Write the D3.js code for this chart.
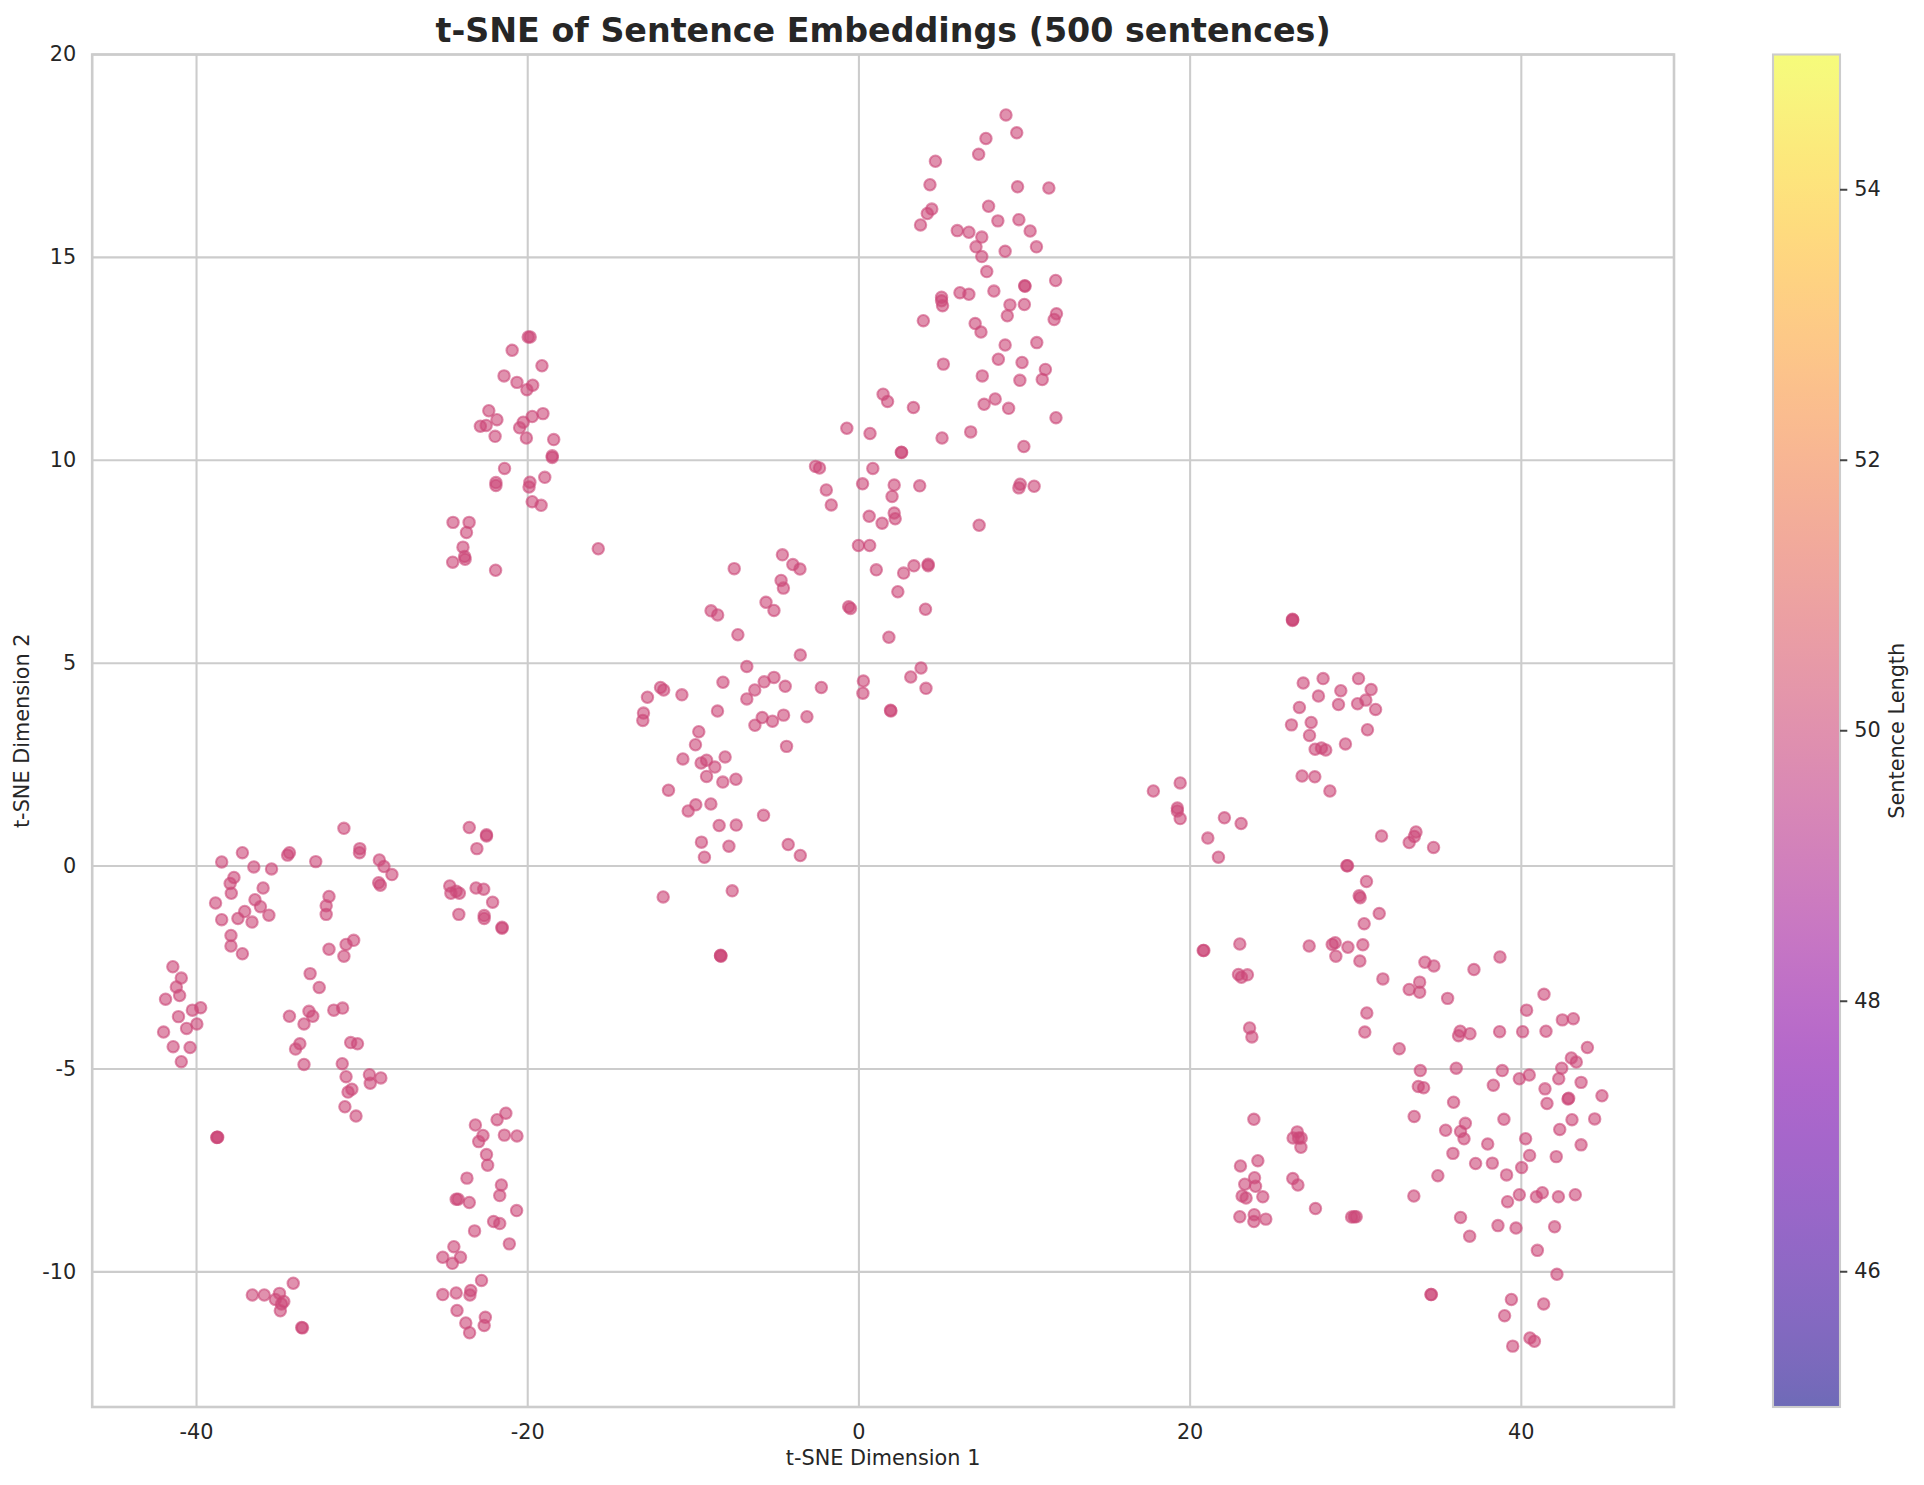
<!DOCTYPE html>
<html><head><meta charset="utf-8">
<style>html,body{margin:0;padding:0;background:#fff}svg{display:block}text{font-family:"DejaVu Sans",sans-serif;fill:#262626}</style>
<script src="https://cdn.jsdelivr.net/npm/d3@7/dist/d3.min.js"></script>
</head><body><svg id="c" width="1924" height="1485"></svg>
<script>
const chartTitle="t-SNE of Sentence Embeddings (500 sentences)";
const xLabel="t-SNE Dimension 1", yLabel="t-SNE Dimension 2", cbLabel="Sentence Length";
const xTicks=[-40,-20,0,20,40], yTicks=[-10,-5,0,5,10,15,20], cbTicks=[46,48,50,52,54];
const sentenceLength=50;
const clusterWestUpper=[[-31.1,.93],[-30.14,.43],[-30.16,.33],[-28.96,.15],[-28.68,-.01],[-28.2,-.21],[-29,-.41],[-28.9,-.47],[-32.8,.11],[-34.39,.33],[-34.5,.27],[-35.47,-.07],[-36.54,-.02],[-37.23,.33],[-38.48,.1],[-37.74,-.28],[-37.97,-.43],[-37.9,-.67],[-35.98,-.54],[-36.47,-.83],[-36.14,-1],[-37.09,-1.12],[-37.5,-1.29],[-38.85,-.91],[-38.48,-1.32],[-36.65,-1.38],[-35.63,-1.21],[-32,-.75],[-32.17,-.98],[-32.17,-1.19],[-37.92,-1.71],[-37.92,-1.97],[-37.23,-2.16],[-30.51,-1.83],[-30.97,-1.93],[-32,-2.05],[-31.1,-2.22],[-33.14,-2.65],[-32.59,-2.99]];
const clusterWestLower=[[-41.43,-2.48],[-40.92,-2.76],[-41.22,-2.98],[-41.02,-3.19],[-41.87,-3.28],[-39.75,-3.49],[-40.25,-3.55],[-41.09,-3.71],[-39.98,-3.89],[-40.6,-4],[-41.99,-4.09],[-41.41,-4.45],[-40.39,-4.47],[-40.92,-4.82],[-34.39,-3.7],[-33.21,-3.58],[-32.98,-3.7],[-33.51,-3.89],[-31.71,-3.55],[-31.18,-3.5],[-30.69,-4.35],[-30.28,-4.38],[-33.76,-4.38],[-34.02,-4.51],[-33.51,-4.89],[-31.2,-4.87],[-30.97,-5.19],[-29.56,-5.14],[-28.87,-5.22],[-29.51,-5.35],[-30.62,-5.5],[-30.85,-5.57],[-31.04,-5.93],[-30.37,-6.16],[-38.75,-6.68],[-38.72,-6.68],[-38.78,-6.69],
[-36.63,-10.57],[-35.91,-10.57],[-34.16,-10.28],[-34.99,-10.53],[-35.24,-10.68],[-34.73,-10.73],[-34.87,-10.79],[-34.94,-10.96],[-33.65,-11.37],[-33.6,-11.38]];
const clusterSouthWest=[[-23.53,.95],[-22.49,.77],[-22.49,.74],[-23.07,.43],[-24.71,-.49],[-24.64,-.67],[-24.32,-.62],[-24.13,-.67],[-23.12,-.54],[-22.66,-.57],[-22.12,-.89],[-24.16,-1.19],[-22.63,-1.22],[-22.63,-1.29],[-21.55,-1.51],[-21.55,-1.53],
[-23.16,-6.38],[-21.32,-6.09],[-21.85,-6.25],[-22.7,-6.64],[-22.96,-6.79],[-21.41,-6.63],[-20.65,-6.65],[-22.49,-7.11],[-22.42,-7.37],[-23.67,-7.69],[-21.59,-7.86],[-21.69,-8.12],[-24.32,-8.21],[-24.2,-8.21],[-23.53,-8.29],[-20.67,-8.49],[-22.06,-8.76],[-21.69,-8.81],[-23.21,-8.99],[-21.11,-9.31],[-24.46,-9.38],[-25.13,-9.64],[-24.06,-9.64],[-24.55,-9.79],[-22.79,-10.21],[-23.44,-10.46],[-23.49,-10.57],[-24.32,-10.52],[-25.13,-10.56],[-24.27,-10.95],[-22.56,-11.12],[-22.63,-11.32],[-23.74,-11.26],[-23.51,-11.5]];
const clusterNorthWest=[[-19.97,13.04],[-19.85,13.04],[-20.94,12.71],[-19.14,12.33],[-21.43,12.08],[-20.65,11.92],[-19.7,11.85],[-20.05,11.74],[-22.35,11.22],[-21.86,11],[-19.08,11.15],[-19.73,11.08],[-20.27,10.94],[-20.49,10.8],[-22.86,10.84],[-22.51,10.86],[-21.97,10.59],[-20.08,10.55],[-18.43,10.51],[-18.52,10.11],[-18.52,10.07],[-21.4,9.8],[-18.97,9.58],[-21.92,9.45],[-21.92,9.38],[-19.87,9.46],[-19.92,9.34],[-19.73,8.98],[-19.19,8.89],[-24.51,8.47],[-23.54,8.47],[-23.7,8.22],[-23.91,7.86],[-23.81,7.63],[-23.78,7.56],[-24.53,7.49],[-21.94,7.29],[-15.74,7.82]];
const clusterNorth=[[8.88,18.51],[9.53,18.07],[7.67,17.93],[7.23,17.54],[4.62,17.37],[4.29,16.79],[9.58,16.74],[11.47,16.71],[4.4,16.19],[4.13,16.08],[3.72,15.8],[7.83,16.26],[8.39,15.9],[9.66,15.93],[10.34,15.65],[5.94,15.66],[6.64,15.62],[7.42,15.5],[7.07,15.26],[7.42,15.02],[8.83,15.15],[10.72,15.26],[7.72,14.65],[10.01,14.3],[10.03,14.29],[11.88,14.43],[8.15,14.17],[6.1,14.13],[6.64,14.09],[4.99,14.02],[4.99,13.93],[5.05,13.81],[9.12,13.83],[9.99,13.84],[8.96,13.56],[11.93,13.61],[11.79,13.47],[3.89,13.44],[7.02,13.37],[7.37,13.16],[8.83,12.84],[10.74,12.9],[8.42,12.49],[9.85,12.41],[5.1,12.37],[11.26,12.24],[7.45,12.08],[9.72,11.97],[11.07,11.99],[1.46,11.63],[1.73,11.45],[3.29,11.3],[8.23,11.51],[7.56,11.38],[9.04,11.28],[11.9,11.05],[-.73,10.79],[.67,10.66],[6.75,10.7],[5.02,10.55],[9.96,10.34]];
const clusterCentre=[[2.56,10.2],[2.58,10.19],[-2.62,9.85],[-2.38,9.81],[.84,9.8],[.22,9.42],[2.13,9.39],[3.67,9.37],[9.74,9.41],[9.66,9.32],[10.58,9.36],[-1.97,9.27],[2,9.11],[-1.67,8.9],[.62,8.62],[2.13,8.7],[2.19,8.56],[1.4,8.45],[7.26,8.4],[-.03,7.9],[.65,7.9],[-4.62,7.67],[-3.99,7.43],[-3.56,7.32],[-7.53,7.33],[4.18,7.44],[4.18,7.4],[3.32,7.4],[2.7,7.22],[1.05,7.3],[-4.7,7.04],[-4.56,6.85],[2.35,6.76],[-5.61,6.5],[-5.13,6.3],[-8.93,6.29],[-8.53,6.19],[-.62,6.39],[-.51,6.35],[4.02,6.33],[-7.31,5.7],[1.81,5.64],[-3.54,5.2],[-6.77,4.92],[3.75,4.88],[3.13,4.66],[-5.13,4.65],[-5.72,4.54],[-8.21,4.53],[.27,4.56],[-4.45,4.43],[-6.29,4.34],[-2.27,4.4],[4.05,4.38],[.24,4.26],[-11.98,4.4],[-11.79,4.34],[-10.69,4.22],[-12.77,4.16],[-6.77,4.12]];
const clusterCentreLow=[[-13.01,3.77],[-13.05,3.59],[-8.54,3.82],[1.91,3.84],[1.93,3.82],[-5.84,3.66],[-6.28,3.47],[-5.22,3.57],[-4.55,3.72],[-3.14,3.68],[-9.67,3.31],[-9.87,2.99],[-4.37,2.95],[-10.63,2.64],[-9.2,2.61],[-9.53,2.54],[-8.08,2.69],[-8.7,2.44],[-9.2,2.21],[-7.43,2.14],[-8.22,2.07],[-11.5,1.87],[-9.85,1.51],[-10.31,1.36],[-8.94,1.53],[-5.76,1.25],[-8.44,1],[-7.41,1.01],[-9.51,.59],[-7.85,.49],[-4.27,.53],[-3.54,.26],[-9.33,.22],[-7.65,-.61],[-11.82,-.76],[-8.36,-2.21],[-8.33,-2.22],[-8.35,-2.2]];
const clusterEastUpper=[[26.18,6.08],[26.18,6.05],[26.2,6.07],[26.83,4.51],[28.03,4.62],[30.17,4.62],[29.1,4.32],[30.93,4.35],[27.75,4.19],[30.61,4.09],[30.11,4],[28.96,3.98],[26.6,3.91],[31.2,3.86],[27.31,3.54],[26.12,3.48],[30.71,3.36],[27.21,3.22],[29.38,3.01],[27.55,2.88],[27.93,2.91],[28.19,2.86],[26.76,2.22],[27.53,2.2],[28.44,1.85],
[19.4,2.05],[17.78,1.85],[19.23,1.43],[19.23,1.36],[19.4,1.17],[22.07,1.19],[23.08,1.05],[21.07,.69],[21.71,.22]];
const clusterEastMid=[[31.56,.74],[33.64,.84],[33.54,.73],[33.23,.58],[34.7,.46],[29.51,.01],[29.46,.01],[30.65,-.38],[30.21,-.73],[30.27,-.78],[31.42,-1.17],[30.51,-1.42],[28.76,-1.89],[28.58,-1.93],[27.19,-1.97],[29.53,-2],[30.43,-1.94],[28.8,-2.22],[30.25,-2.34],[31.64,-2.78],[23,-1.92],[20.79,-2.08],[20.83,-2.08],[22.92,-2.67],[23.1,-2.74],[23.46,-2.68],[23.59,-3.99],[23.73,-4.21],[30.67,-3.62],[30.55,-4.09],[32.63,-4.5]];
const clusterEastLower=[[38.71,-2.24],[37.14,-2.55],[34.18,-2.37],[34.72,-2.46],[33.86,-2.86],[33.23,-3.04],[33.86,-3.11],[35.55,-3.26],[41.37,-3.16],[40.32,-3.55],[42.48,-3.79],[43.14,-3.76],[36.31,-4.07],[36.21,-4.18],[36.9,-4.13],[38.69,-4.08],[40.08,-4.08],[41.49,-4.07],[43.99,-4.47],[43.02,-4.73],[43.32,-4.83],[42.44,-4.98],[42.26,-5.24],[43.61,-5.33],[36.07,-4.98],[33.9,-5.04],[38.85,-5.04],[40.48,-5.15],[39.88,-5.24],[33.78,-5.43],[34.1,-5.46],[38.31,-5.4],[41.43,-5.49],[42.82,-5.74],[42.86,-5.72],[44.87,-5.66],[41.55,-5.85],[35.91,-5.82],[33.53,-6.17],[38.95,-6.24],[43.06,-6.25],[44.43,-6.23],[36.62,-6.34],[36.33,-6.54],[35.43,-6.51],[36.54,-6.72],[42.32,-6.49],[40.26,-6.72],[37.97,-6.85],[43.61,-6.87],[35.87,-7.08],[40.5,-7.13],[42.11,-7.16],[37.24,-7.33],[38.25,-7.32],[40.02,-7.43],[39.11,-7.61],[34.96,-7.63],[33.51,-8.13],[39.88,-8.1],[39.17,-8.27],[41.27,-8.05],[40.91,-8.15],[42.24,-8.15],[43.26,-8.1],[36.33,-8.66],[36.88,-9.12],[38.59,-8.86],[39.68,-8.92],[42.01,-8.89],[40.97,-9.47],[42.15,-10.06],[34.54,-10.56],[34.57,-10.56],[39.4,-10.68],[41.35,-10.79],[38.99,-11.08],[40.52,-11.63],[40.79,-11.71],[39.48,-11.83]];
const clusterSouthEast=[[23.85,-6.24],[26.47,-6.55],[26.22,-6.7],[26.55,-6.7],[26.71,-6.7],[26.69,-6.93],[24.09,-7.26],[23.04,-7.39],[23.89,-7.68],[23.3,-7.84],[23.95,-7.89],[26.2,-7.7],[26.51,-7.86],[23.14,-8.13],[23.38,-8.18],[24.39,-8.15],[27.57,-8.44],[23,-8.64],[23.87,-8.59],[23.85,-8.76],[24.57,-8.7],[29.75,-8.65],[29.91,-8.64],[30.03,-8.64]];
const allPoints=[].concat(clusterWestUpper,clusterWestLower,clusterSouthWest,clusterNorthWest,clusterNorth,clusterCentre,clusterCentreLow,clusterEastUpper,clusterEastMid,clusterEastLower,clusterSouthEast);

const L=92.2,R=1674,T=54.5,B=1407;
const x=d3.scaleLinear().domain([-46.3,49.22]).range([L,R]);
const y=d3.scaleLinear().domain([-13.33,20]).range([B,T]);
const colorNorm=d3.scaleLinear().domain([45,55]).range([0,1]);
const color=v=>d3.interpolatePlasma(colorNorm(v));
const svg=d3.select("#c");
const grid="#cccccc";
// grid
const gx=svg.append("g").attr("transform",`translate(0,${B})`).call(d3.axisBottom(x).offset(0).tickValues(xTicks).tickSize(-(B-T)).tickPadding(17).tickFormat(String));
const gy=svg.append("g").attr("transform",`translate(${L},0)`).call(d3.axisLeft(y).offset(0).tickValues(yTicks).tickSize(-(R-L)).tickPadding(16).tickFormat(String));
[gx,gy].forEach(g=>{g.select(".domain").remove();g.selectAll("line").attr("stroke",grid).attr("stroke-width",2.08);g.selectAll("text").attr("font-size",20.8).attr("font-family","DejaVu Sans").attr("fill","#262626");});
// points
svg.append("g").selectAll("circle").data(allPoints).join("circle")
 .attr("cx",d=>x(d[0])).attr("cy",d=>y(d[1])).attr("r",5.7)
 .attr("fill",color(sentenceLength)).attr("stroke",color(sentenceLength))
 .attr("fill-opacity",.6).attr("stroke-opacity",.6).attr("stroke-width",2.08);
// spines
svg.append("rect").attr("x",L).attr("y",T).attr("width",R-L).attr("height",B-T).attr("fill","none").attr("stroke",grid).attr("stroke-width",2.6);
// labels
svg.append("text").attr("x",(L+R)/2).attr("y",42).attr("text-anchor","middle").attr("font-size",33.3).attr("font-weight","bold").text(chartTitle);
svg.append("text").attr("x",(L+R)/2).attr("y",1465).attr("text-anchor","middle").attr("font-size",20.8).text(xLabel);
svg.append("text").attr("transform",`translate(29,${(T+B)/2}) rotate(-90)`).attr("text-anchor","middle").attr("font-size",20.8).text(yLabel);
// colorbar
const cbL=1773,cbR=1840;
const cbY=d3.scaleLinear().domain([45,55]).range([B,T]);
const defs=svg.append("defs");
const lg=defs.append("linearGradient").attr("id","cb").attr("x1",0).attr("x2",0).attr("y1",1).attr("y2",0);
lg.selectAll("stop").data(d3.range(0,65)).join("stop").attr("offset",d=>d/64).attr("stop-color",d=>d3.interpolatePlasma(d/64)).attr("stop-opacity",.6);
svg.append("rect").attr("x",cbL).attr("y",T).attr("width",cbR-cbL).attr("height",B-T).attr("fill","url(#cb)");
svg.append("rect").attr("x",cbL).attr("y",T).attr("width",cbR-cbL).attr("height",B-T).attr("fill","none").attr("stroke",grid).attr("stroke-width",2.08);
const gc=svg.append("g").attr("transform",`translate(${cbR},0)`).call(d3.axisRight(cbY).offset(0).tickValues(cbTicks).tickSize(7.3).tickPadding(7).tickFormat(String));
gc.select(".domain").remove();
gc.selectAll("line").attr("stroke","#444").attr("stroke-width",2);
gc.selectAll("text").attr("font-size",20.8).attr("font-family","DejaVu Sans").attr("fill","#262626");
svg.append("text").attr("transform",`translate(1904,${(T+B)/2}) rotate(-90)`).attr("text-anchor","middle").attr("font-size",20.8).text(cbLabel);
</script></body></html>
